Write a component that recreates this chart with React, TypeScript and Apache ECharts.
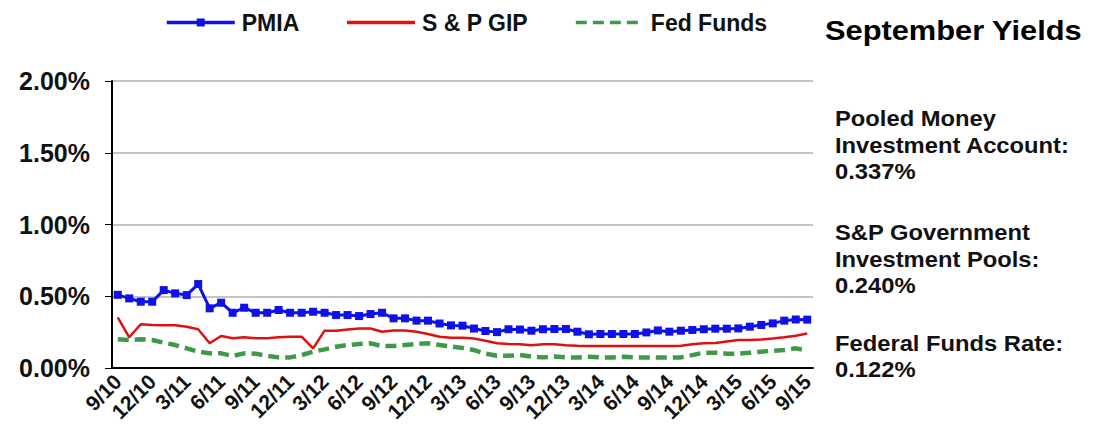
import React, { useEffect, useRef } from "react";
import * as echarts from "echarts";

const categories = [
  "9/10","10/10","11/10","12/10","1/11","2/11","3/11","4/11","5/11","6/11","7/11","8/11",
  "9/11","10/11","11/11","12/11","1/12","2/12","3/12","4/12","5/12","6/12","7/12","8/12",
  "9/12","10/12","11/12","12/12","1/13","2/13","3/13","4/13","5/13","6/13","7/13","8/13",
  "9/13","10/13","11/13","12/13","1/14","2/14","3/14","4/14","5/14","6/14","7/14","8/14",
  "9/14","10/14","11/14","12/14","1/15","2/15","3/15","4/15","5/15","6/15","7/15","8/15","9/15",
];

const pmia = [
  0.51, 0.485, 0.462, 0.462, 0.543, 0.52, 0.508, 0.585, 0.416, 0.455, 0.385, 0.42,
  0.385, 0.385, 0.404, 0.385, 0.385, 0.392, 0.385, 0.369, 0.369, 0.362, 0.376, 0.385,
  0.346, 0.346, 0.33, 0.33, 0.31, 0.297, 0.295, 0.275, 0.258, 0.25, 0.27, 0.268,
  0.26, 0.27, 0.272, 0.272, 0.253, 0.235, 0.237, 0.237, 0.237, 0.237, 0.248, 0.262,
  0.253, 0.26, 0.265, 0.27, 0.274, 0.274, 0.276, 0.288, 0.3, 0.311, 0.33, 0.338, 0.337,
];

const spGip = [
  0.353, 0.214, 0.305, 0.3, 0.298, 0.298, 0.288, 0.27, 0.172, 0.223, 0.207, 0.214,
  0.207, 0.207, 0.215, 0.218, 0.218, 0.137, 0.26, 0.26, 0.268, 0.275, 0.275, 0.253,
  0.262, 0.262, 0.253, 0.237, 0.218, 0.21, 0.21, 0.205, 0.19, 0.172, 0.168, 0.165,
  0.158, 0.165, 0.165, 0.158, 0.155, 0.153, 0.153, 0.153, 0.153, 0.153, 0.153, 0.153,
  0.153, 0.155, 0.165, 0.172, 0.175, 0.185, 0.195, 0.195, 0.198, 0.205, 0.214, 0.225, 0.24,
];

const fedFunds = [
  0.2, 0.195, 0.2, 0.195, 0.176, 0.16, 0.137, 0.114, 0.102, 0.102, 0.084, 0.102,
  0.1, 0.084, 0.074, 0.074, 0.09, 0.114, 0.13, 0.148, 0.16, 0.167, 0.172, 0.153,
  0.153, 0.16, 0.167, 0.172, 0.16, 0.15, 0.14, 0.125, 0.1, 0.085, 0.085, 0.09,
  0.08, 0.074, 0.08, 0.074, 0.074, 0.078, 0.074, 0.074, 0.078, 0.074, 0.074, 0.074,
  0.074, 0.074, 0.09, 0.107, 0.107, 0.1, 0.1, 0.107, 0.114, 0.12, 0.125, 0.137, 0.122,
];

const seriesNames = ["PMIA", "S & P GIP", "Fed Funds"];
const titleText = "September Yields";
const sideLines = [
  ["Pooled Money", "Investment Account:", "0.337%"],
  ["S&P Government", "Investment Pools:", "0.240%"],
  ["Federal Funds Rate:", "0.122%"],
];

const FONT = "'Liberation Sans', Arial, Helvetica, sans-serif";

export default function App() {
  const ref = useRef<HTMLDivElement>(null);
  useEffect(() => {
    if (!ref.current) return;
    const chart = echarts.init(ref.current, undefined, { renderer: "svg" });

    const sideY = [
      [118, 145, 171],
      [232, 259, 285],
      [343, 369],
    ];
    const graphics: any[] = [
      {
        type: "text",
        x: 825,
        y: 30,
        scaleX: 1.1,
        style: {
          text: titleText,
          fontSize: 28,
          fontWeight: "bold",
          fontFamily: FONT,
          fill: "#000",
          verticalAlign: "middle",
        },
      },
    ];
    sideLines.forEach((block, bi) => {
      block.forEach((t, li) => {
        graphics.push({
          type: "text",
          x: 835,
          y: sideY[bi][li],
          scaleX: 1.08,
          style: {
            text: t,
            fontSize: 22,
            fontWeight: "bold",
            fontFamily: FONT,
            fill: "#111",
            verticalAlign: "middle",
          },
        });
      });
    });

    chart.setOption({
      animation: false,
      backgroundColor: "#fff",
      textStyle: { fontFamily: FONT },
      legend: {
        left: 160,
        top: 6,
        itemWidth: 68,
        itemHeight: 10,
        itemGap: 46,
        lineStyle: { width: 3.5 },
        data: [
          { name: seriesNames[0] },
          { name: seriesNames[1], itemStyle: { opacity: 0 } },
          { name: seriesNames[2], itemStyle: { opacity: 0 } },
        ],
        textStyle: {
          fontSize: 23,
          fontWeight: "bold",
          color: "#111",
          fontFamily: FONT,
          padding: [0, 0, 0, 2],
        },
      },
      graphic: graphics,
      grid: { left: 112, right: 283, top: 81, bottom: 79 },
      xAxis: {
        type: "category",
        data: categories,
        boundaryGap: true,
        axisLine: { lineStyle: { color: "#000", width: 2 } },
        axisTick: { interval: 0, length: 7, lineStyle: { color: "#888", width: 1 } },
        axisLabel: {
          interval: 2,
          rotate: 45,
          margin: 10,
          fontSize: 21,
          fontWeight: "bold",
          color: "#111",
          fontFamily: FONT,
        },
      },
      yAxis: {
        type: "value",
        min: 0,
        max: 2,
        interval: 0.5,
        axisLine: { show: true, lineStyle: { color: "#000", width: 2 } },
        axisTick: { show: true, length: 7, lineStyle: { color: "#000", width: 1 } },
        splitLine: { lineStyle: { color: "#c4c4c4", width: 2 } },
        axisLabel: {
          margin: 22,
          fontSize: 25,
          fontWeight: "bold",
          color: "#111",
          fontFamily: FONT,
          formatter: (v: number) => v.toFixed(2) + "%",
        },
      },
      series: [
        {
          name: seriesNames[0],
          type: "line",
          data: pmia,
          symbol: "rect",
          symbolSize: 8,
          showAllSymbol: true,
          z: 5,
          itemStyle: { color: "#1010e8" },
          lineStyle: { color: "#1010e8", width: 3 },
        },
        {
          name: seriesNames[1],
          type: "line",
          data: spGip,
          symbol: "none",
          z: 4,
          itemStyle: { color: "#e01010" },
          lineStyle: { color: "#e01010", width: 2.5 },
        },
        {
          name: seriesNames[2],
          type: "line",
          data: fedFunds,
          symbol: "none",
          z: 3,
          itemStyle: { color: "#3f9a47" },
          lineStyle: { color: "#3f9a47", width: 4.5, type: [11, 6] },
        },
      ],
    });
    return () => chart.dispose();
  }, []);
  return (
    <div
      ref={ref}
      style={{ position: "fixed", left: 0, top: 0, width: 1096, height: 447 }}
    />
  );
}
